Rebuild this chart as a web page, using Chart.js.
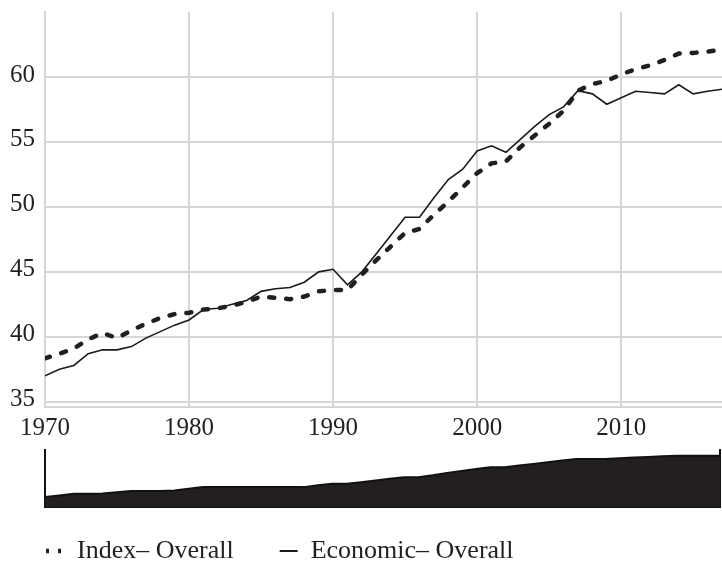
<!DOCTYPE html>
<html>
<head>
<meta charset="utf-8">
<script src="https://cdn.jsdelivr.net/npm/chart.js@4.4.1/dist/chart.umd.min.js"></script>
<style>
  html, body { margin: 0; padding: 0; background: #fff; overflow: hidden; }
  #wrap { position: relative; width: 722px; height: 566px; }
  canvas { position: absolute; left: 0; }
</style>
</head>
<body>
<div id="wrap">
  <canvas id="mainChart" width="722" height="574" style="top:0"></canvas>
  <canvas id="navChart" width="722" height="80" style="top:440px"></canvas>
</div>
<script>
// years 1970 - 2017
let years = [];
for (let y = 1970; y <= 2017; y++) years.push(y);

let indexOverall = [
  38.35, 38.7, 39.1, 39.8, 40.3, 39.9, 40.5, 41.0, 41.45, 41.75,
  41.85, 42.1, 42.2, 42.4, 42.7, 43.1, 43.0, 42.9, 43.1, 43.5,
  43.6, 43.6, 44.8, 45.9, 46.95, 48.0, 48.3, 49.4, 50.4, 51.5,
  52.6, 53.35, 53.5, 54.6, 55.5, 56.4, 57.4, 58.95, 59.45, 59.7,
  60.2, 60.6, 60.9, 61.3, 61.8, 61.85, 61.95, 62.1
];
let economicOverall = [
  37.0, 37.5, 37.8, 38.7, 39.0, 39.0, 39.25, 39.9, 40.4, 40.9,
  41.3, 42.1, 42.2, 42.5, 42.8, 43.5, 43.7, 43.8, 44.2, 45.0,
  45.2, 44.0, 45.0, 46.4, 47.8, 49.2, 49.2, 50.7, 52.1, 52.9,
  54.3, 54.7, 54.2, 55.2, 56.2, 57.1, 57.7, 58.95, 58.7, 57.9,
  58.4, 58.9, 58.8, 58.7, 59.4, 58.7, 58.9, 59.05
];
// navigator series (own scale, 0 - 172)
let navSeries = [
  30, 35, 40, 40, 41, 44.5, 48, 48, 48, 50,
  55, 60, 60, 60, 60, 60, 60, 60, 60, 66,
  70, 70, 75, 80, 85, 90, 90, 96, 103, 109,
  115, 120, 120, 125, 130, 135, 140, 145, 145, 145,
  147, 149, 151, 153, 155, 155, 155, 155
];
let xTicks = [1970, 1980, 1990, 2000, 2010];
let yTicks = [35, 40, 45, 50, 55, 60];
let legendLabels = ['Index\u2013 Overall', 'Economic\u2013 Overall'];

Chart.defaults.font.family = "'Liberation Serif', 'DejaVu Serif', serif";
Chart.defaults.color = '#231f20';

function xy(vals) {
  return vals.map((v, i) => ({x: years[i], y: v}));
}

let gridColor = '#d6d6d6';

new Chart(document.getElementById('mainChart'), {
  type: 'line',
  data: {
    datasets: [
      {
        label: legendLabels[0],
        data: xy(indexOverall),
        borderColor: '#231f20',
        borderWidth: 4.5,
        borderDash: [5, 12],
        borderCapStyle: 'round',
        pointRadius: 0,
        pointStyle: 'line',
        tension: 0
      },
      {
        label: legendLabels[1],
        data: xy(economicOverall),
        borderColor: '#1a1a1a',
        borderWidth: 1.6,
        pointRadius: 0,
        pointStyle: 'line',
        tension: 0
      }
    ]
  },
  options: {
    responsive: false,
    animation: false,
    layout: { padding: { top: 12, left: 0, right: 0, bottom: 0 } },
    plugins: {
      tooltip: { enabled: false },
      legend: {
        position: 'bottom',
        align: 'start',
        labels: {
          usePointStyle: true,
          pointStyleWidth: 18,
          padding: 46,
          color: '#231f20',
          font: { size: 26 },
          generateLabels: chart => {
            let items = Chart.defaults.plugins.legend.labels.generateLabels(chart);
            // shorter dashes so the key shows two dots
            if (items[0]) items[0].lineDash = [3, 9];
            if (items[1]) items[1].lineWidth = 2;
            return items;
          }
        }
      }
    },
    scales: {
      x: {
        type: 'linear',
        min: 1970,
        max: 2017,
        afterBuildTicks: s => { s.ticks = xTicks.map(v => ({value: v})); },
        afterFit: s => { s.height = 85; },
        grid: { color: gridColor, lineWidth: 2, drawTicks: false },
        border: { display: true, color: gridColor, width: 2 },
        ticks: { padding: 6, font: { size: 25 }, maxRotation: 0, callback: v => String(v) }
      },
      y: {
        min: 34.6,
        max: 65,
        afterBuildTicks: s => { s.ticks = yTicks.map(v => ({value: v})); },
        afterFit: s => { s.width = 45; s.paddingTop = 0; s.paddingBottom = 0; },
        grid: { color: gridColor, lineWidth: 2, drawTicks: false },
        border: { display: true, color: gridColor, width: 2 },
        ticks: { padding: 10, font: { size: 25 }, labelOffset: -2 }
      }
    }
  }
});

new Chart(document.getElementById('navChart'), {
  type: 'line',
  data: {
    datasets: [{
      data: xy(navSeries),
      borderColor: '#111',
      borderWidth: 2,
      backgroundColor: '#231f20',
      fill: 'origin',
      pointRadius: 0,
      tension: 0
    }]
  },
  options: {
    responsive: false,
    animation: false,
    layout: { padding: { top: 10, left: 0, right: 0, bottom: 0 } },
    plugins: { legend: { display: false }, tooltip: { enabled: false } },
    scales: {
      x: {
        type: 'linear',
        min: 1970,
        max: 2017,
        afterFit: s => { s.height = 13; },
        grid: { display: false },
        ticks: { display: false },
        border: { display: true, color: '#111', width: 2 }
      },
      y: {
        min: 0,
        max: 172,
        afterFit: s => { s.width = 45; },
        grid: { display: false },
        ticks: { display: false },
        border: { display: true, color: '#111', width: 2 }
      },
      y2: {
        position: 'right',
        min: 0,
        max: 172,
        afterFit: s => { s.width = 2; },
        grid: { display: false },
        ticks: { display: false },
        border: { display: true, color: '#111', width: 2 }
      }
    }
  }
});
</script>
</body>
</html>
